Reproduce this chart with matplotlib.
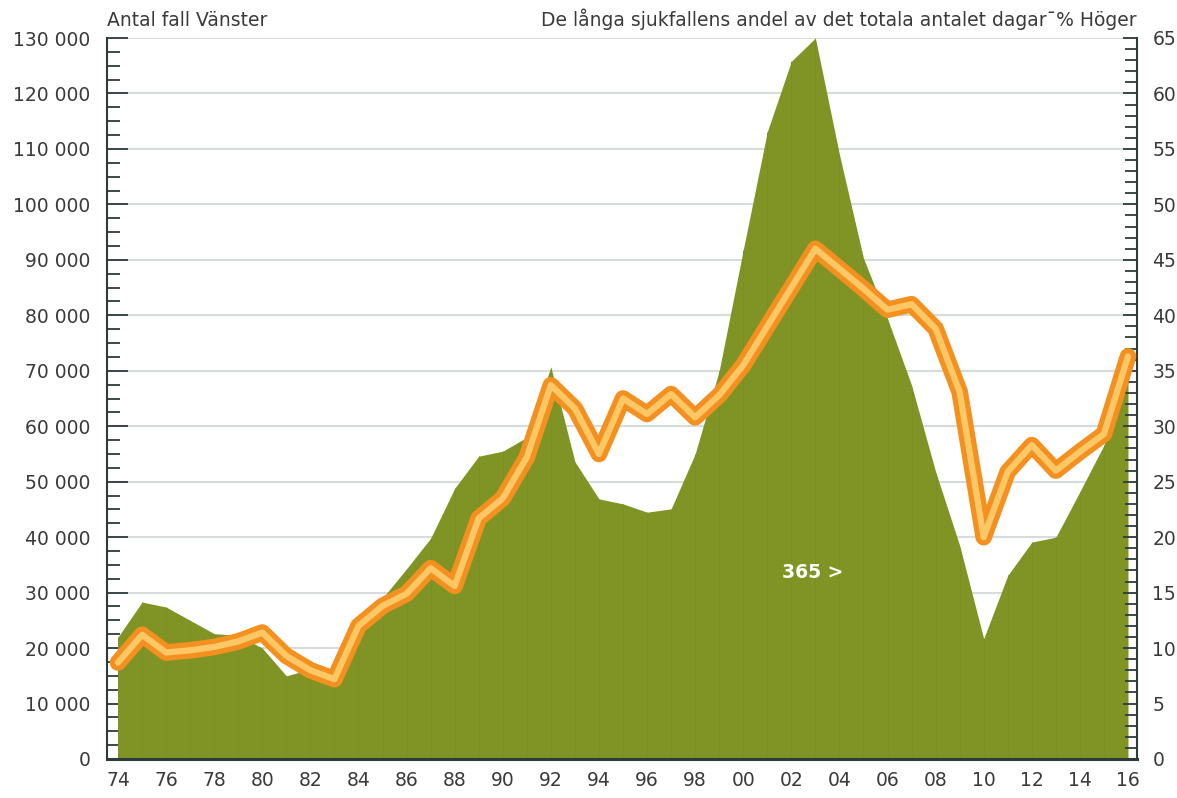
import matplotlib
matplotlib.use("Agg")
import matplotlib.pyplot as plt
from matplotlib.ticker import MultipleLocator, FuncFormatter

plt.rcParams['font.family'] = ['DejaVu Sans']

years = list(range(1974, 2017))
cases = [22000, 28300, 27400, 25000, 22600, 22300, 20000, 15000, 16200, 16000,
         24000, 29000, 34300, 39800, 48800, 54600, 55500, 58000, 70700, 53600,
         46900, 46000, 44500, 45100, 55000, 70000, 91800, 113100, 125800, 130000,
         109000, 90300, 79400, 67400, 51800, 38500, 21700, 33100, 39100, 40000,
         48200, 56600, 69000]
share = [8.7, 11.2, 9.6, 9.8, 10.1, 10.6, 11.4, 9.3, 8.0, 7.2,
         12.0, 13.8, 14.9, 17.2, 15.6, 21.7, 23.5, 27.2, 33.7, 31.6,
         27.5, 32.5, 31.1, 32.9, 30.8, 32.8, 35.5, 39.0, 42.5, 46.0,
         44.2, 42.4, 40.5, 41.0, 38.8, 33.1, 20.0, 25.9, 28.3, 26.0,
         27.7, 29.3, 36.3]
xtick_years = list(range(1974, 2017, 2))
xtick_labels = [f"{y % 100:02d}" for y in xtick_years]
left_title = "Antal fall Vänster"
right_title = "De långa sjukfallens andel av det totala antalet dagar¯% Höger"
annotation = "365 >"

W, H = 1177, 798
fig = plt.figure(figsize=(W / 100, H / 100), dpi=100)
x0, x1, y0, y1 = 107, 1137, 759, 38
ax = fig.add_axes([x0 / W, 1 - y0 / H, (x1 - x0) / W, (y0 - y1) / H])

spine_col = '#2e3b3b'
text_col = '#3a3a3a'
grid_col = '#d6dcdc'
area_col = '#7f9424'
fs = 13.5

ax.set_xlim(1974 - 11 / 24.02, 2016 + 9 / 24.02)
ax.set_ylim(0, 130000)
ax.set_axisbelow(True)
ax.yaxis.set_major_locator(MultipleLocator(10000))
ax.yaxis.set_minor_locator(MultipleLocator(2500))
ax.grid(axis='y', which='major', color=grid_col, lw=1.5, zorder=0)
ax.yaxis.set_major_formatter(FuncFormatter(lambda v, p: f"{int(v):,}".replace(",", " ")))

poly = ax.fill_between(years, 0, cases, color=area_col, lw=0, zorder=2)
vl = ax.vlines(years, 0, cases, color='#7b8f22', lw=0.7, zorder=2.1)
vl.set_clip_path(poly.get_paths()[0], ax.transData)

ax.set_xticks(xtick_years)
ax.set_xticklabels(xtick_labels)
ax.tick_params(axis='x', length=0, pad=9, labelsize=fs, colors=text_col)
ax.tick_params(axis='y', which='major', direction='in', length=15, width=1.3,
               color=spine_col, labelsize=fs, labelcolor=text_col, pad=12)
ax.tick_params(axis='y', which='minor', direction='in', length=9, width=1.3, color=spine_col)

for s in ['top', 'right']:
    ax.spines[s].set_visible(False)
ax.spines['left'].set_color(spine_col)
ax.spines['left'].set_linewidth(1.5)
ax.spines['bottom'].set_color(spine_col)
ax.spines['bottom'].set_linewidth(2.2)

ax2 = ax.twinx()
ax2.set_ylim(0, 65)
ax2.yaxis.set_major_locator(MultipleLocator(5))
ax2.yaxis.set_minor_locator(MultipleLocator(1))
ax2.tick_params(axis='y', which='major', direction='in', length=10, width=1.3,
                color=spine_col, labelsize=fs, labelcolor=text_col, pad=11)
ax2.tick_params(axis='y', which='minor', direction='in', length=9, width=1.3, color=spine_col)
for s in ['top', 'left', 'bottom']:
    ax2.spines[s].set_visible(False)
ax2.spines['right'].set_color(spine_col)
ax2.spines['right'].set_linewidth(1.5)

ax2.plot(years, share, color='#f39020', lw=12, solid_joinstyle='round',
         solid_capstyle='round', zorder=3)
ax2.plot(years, share, color='#fcc765', lw=4.5, solid_joinstyle='round',
         solid_capstyle='round', zorder=4)

ax.text(2002.9, 33600, annotation, color='white', fontsize=fs, fontweight='bold',
        ha='center', va='center', zorder=5)

fig.text(x0 / W, 1 - 26 / H, left_title, ha='left', va='baseline', fontsize=fs, color=text_col)
fig.text(1137 / W, 1 - 26 / H, right_title, ha='right', va='baseline', fontsize=fs, color=text_col)

fig.savefig('out.png', dpi=100)
